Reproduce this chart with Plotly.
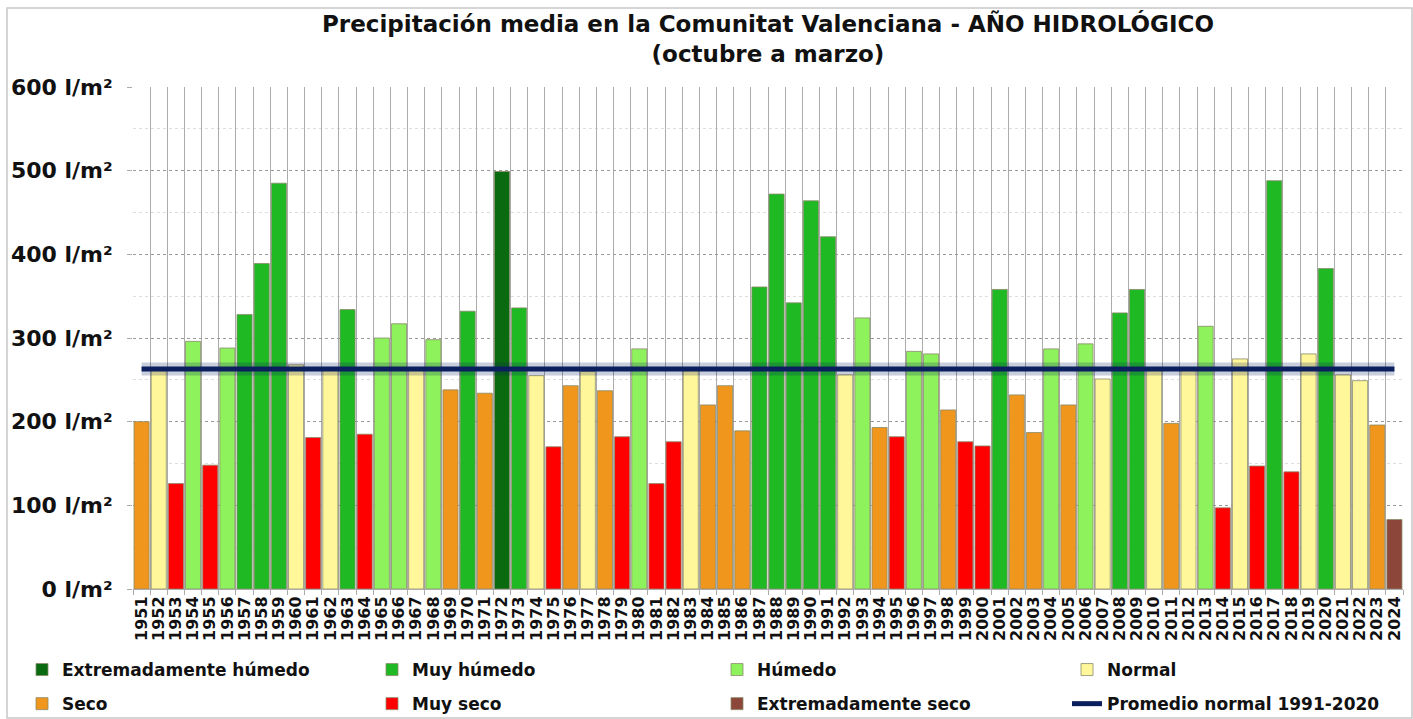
import plotly.graph_objects as go

years = [str(y) for y in range(1951, 2025)]
values = [200, 261, 126, 296, 148, 288, 328, 389, 485, 268,
          181, 262, 334, 185, 300, 317, 262, 298, 238, 332,
          234, 499, 336, 255, 170, 243, 260, 237, 182, 287,
          126, 176, 261, 220, 243, 189, 361, 472, 342, 464,
          421, 256, 324, 193, 182, 284, 281, 214, 176, 171,
          358, 232, 187, 287, 220, 293, 251, 330, 358, 262,
          198, 262, 314, 97, 275, 147, 488, 140, 281, 383,
          256, 249, 196, 83]
classes = ["S", "N", "MS", "H", "MS", "H", "MH", "MH", "MH", "N",
           "MS", "N", "MH", "MS", "H", "H", "N", "H", "S", "MH",
           "S", "EH", "MH", "N", "MS", "S", "N", "S", "MS", "H",
           "MS", "MS", "N", "S", "S", "S", "MH", "MH", "MH", "MH",
           "MH", "N", "H", "S", "MS", "H", "H", "S", "MS", "MS",
           "MH", "S", "S", "H", "S", "H", "N", "MH", "MH", "N",
           "S", "N", "H", "MS", "N", "MS", "MH", "MS", "N", "MH",
           "N", "N", "S", "ES"]
class_keys = ["EH", "MH", "H", "N", "S", "MS", "ES"]
class_names = ["Extremadamente húmedo", "Muy húmedo", "Húmedo", "Normal",
               "Seco", "Muy seco", "Extremadamente seco"]
class_colors = ["#0a6a10", "#1fb924", "#8ef25c", "#fff79a",
                "#f0961c", "#fe0000", "#8c463a"]
normal_value = 263
normal_name = "Promedio normal 1991-2020"
y_tickvals = [0, 100, 200, 300, 400, 500, 600]
y_ticktext = ["%d l/m²" % v for v in y_tickvals]
title_text = ("<b>Precipitación media en la Comunitat Valenciana - AÑO HIDROLÓGICO</b>"
              "<br><b>(octubre a marzo)</b>")

FONT = "DejaVu Sans"
W, H = 1413, 719
L, R, T, B = 133, 10, 87, 130
pw, ph = W - L - R, H - T - B

# legend layout: 4 columns x 2 rows
legend_ids = ["legend", "legend2", "legend3", "legend4"]
legend_text_x = [62, 412, 757, 1107]

fig = go.Figure()
for i, k in enumerate(class_keys):
    xs = [y for y, c in zip(years, classes) if c == k]
    ys = [v for v, c in zip(values, classes) if c == k]
    fig.add_trace(go.Bar(
        x=xs, y=ys, name=class_names[i],
        marker=dict(color=class_colors[i], line=dict(color="#8a8a6a", width=0.8)),
        legend=legend_ids[i % 4], legendgroup="g%d" % i,
    ))

# shadow of the normal line
fig.add_trace(go.Scatter(
    x=years, y=[normal_value] * len(years), mode="lines",
    line=dict(color="rgba(11,31,94,0.22)", width=13),
    showlegend=False, hoverinfo="skip",
))
fig.add_trace(go.Scatter(
    x=years, y=[normal_value] * len(years), mode="lines",
    line=dict(color="#0b1f5e", width=5), name=normal_name,
    legend=legend_ids[3], legendgroup="g7",
))

legend_common = dict(
    orientation="v", xref="container", yref="container",
    xanchor="left", yanchor="top", y=1 - 652 / H,
    font=dict(family=FONT, size=17, color="#111111", weight="bold"),
    bgcolor="rgba(0,0,0,0)", tracegroupgap=9, itemwidth=30,
    traceorder="grouped",
)
legends = {}
for j, lid in enumerate(legend_ids):
    legends[lid] = dict(legend_common, x=(legend_text_x[j] - 40) / W)

fig.update_layout(
    width=W, height=H,
    margin=dict(l=L, r=R, t=T, b=B, autoexpand=False),
    paper_bgcolor="white", plot_bgcolor="white",
    barmode="overlay", bargap=0.12,
    font=dict(family=FONT, color="#111111"),
    title=dict(text=title_text, x=0.5, xanchor="center", xref="paper",
               yref="container", y=1 - 32 / H, yanchor="middle",
               font=dict(family=FONT, size=23, color="#111111")),
    showlegend=True,
    **legends,
    xaxis=dict(type="category", categoryorder="array", categoryarray=years,
               tickmode="linear", tick0=0, dtick=1,
               tickson="boundaries", showgrid=True, gridcolor="#ababab", gridwidth=1,
               ticks="outside", ticklen=5, tickcolor="#ababab",
               tickangle=-90, automargin=False,
               tickfont=dict(family=FONT, size=16, color="#111111", weight="bold"),
               showline=True, linecolor="#ababab", linewidth=1, mirror=False,
               range=[-0.5, len(years) - 0.5], fixedrange=True),
    yaxis=dict(range=[0, 600], tickvals=y_tickvals, ticktext=y_ticktext,
               showgrid=True, gridcolor="#9a9a9a", gridwidth=1, griddash="dot",
               minor=dict(dtick=50, showgrid=True, gridcolor="#dedede", gridwidth=1),
               ticks="outside", ticklen=5, tickcolor="#ababab", automargin=False,
               ticklabelstandoff=10,
               tickfont=dict(family=FONT, size=22, color="#111111", weight="bold"),
               zeroline=False, showline=False, fixedrange=True),
)

# outer frame of the graphic
fig.add_shape(type="rect", xref="paper", yref="paper",
              x0=(7 - L) / pw, x1=(W - 1 - L) / pw,
              y0=-(H - 1 - (T + ph)) / ph, y1=((T + ph) - 8) / ph,
              line=dict(color="#c8c8c8", width=1.5), fillcolor="rgba(0,0,0,0)",
              layer="below")

fig.write_html("out.html", config={"displayModeBar": False},
               post_script="document.body.style.margin='0px';document.body.style.overflow='hidden';")
